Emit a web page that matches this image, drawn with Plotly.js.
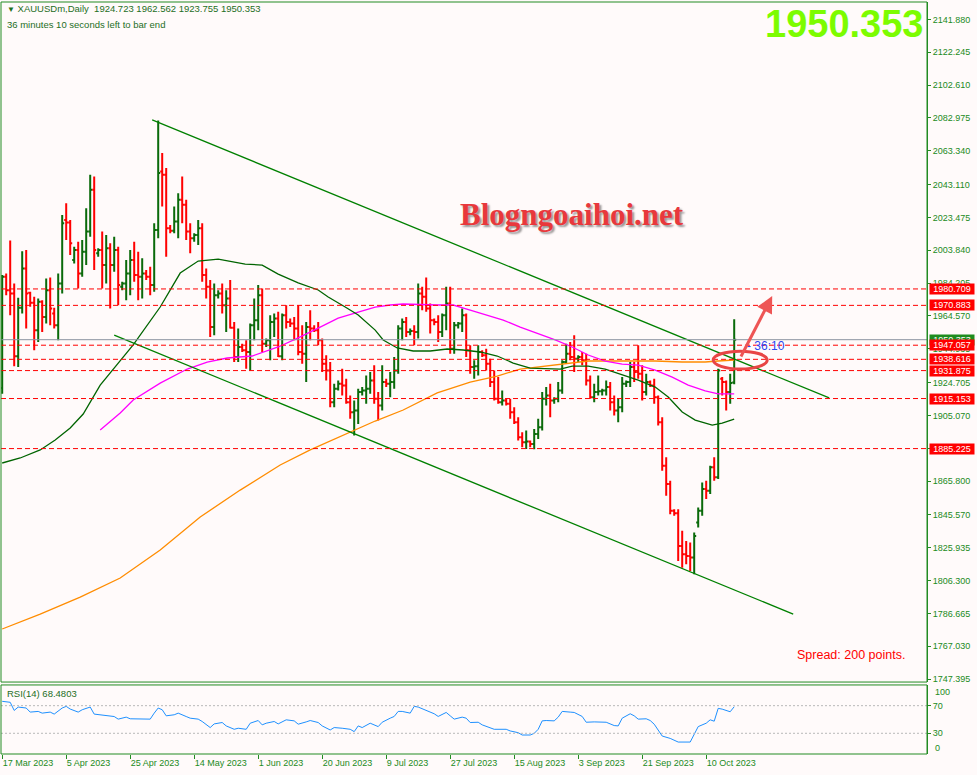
<!DOCTYPE html>
<html><head><meta charset="utf-8">
<script src="https://cdn.plot.ly/plotly-3.0.1.min.js"></script>
<style>html,body{margin:0;padding:0;background:#fffafa}#chart{width:977px;height:775px}</style>
</head><body><div id="chart"></div>
<script>
// ---------- DATA ----------
const barOpen = [1921.5,1988.0,1980.0,1978.0,1940.5,1969.5,1993.0,1978.5,1972.5,1956.0,1973.0,1964.0,1980.0,1966.0,1959.0,1984.0,2022.0,2020.5,1998.0,2004.0,1990.0,2003.0,2015.0,2040.0,2002.0,2004.0,1995.0,2005.0,1995.0,2004.0,1982.0,1984.0,1990.0,1998.0,1989.0,1988.0,1990.0,1988.0,1983.0,2016.0,2051.0,2049.0,2017.0,2015.5,2021.0,2034.0,2031.0,2015.0,2011.0,2013.0,2017.0,1989.0,1982.0,1958.0,1977.0,1978.0,1971.0,1975.0,1957.5,1940.0,1946.0,1944.0,1943.0,1959.0,1962.0,1977.0,1948.0,1950.0,1961.0,1963.0,1940.5,1965.0,1961.0,1960.0,1957.0,1943.0,1942.0,1958.0,1957.0,1956.0,1950.0,1936.0,1932.0,1913.0,1921.0,1924.0,1923.0,1913.0,1907.0,1908.0,1919.0,1920.0,1921.0,1926.0,1915.0,1911.0,1925.0,1924.0,1925.0,1932.0,1957.0,1961.0,1955.0,1955.5,1955.0,1978.0,1976.0,1969.0,1962.0,1961.0,1955.0,1965.0,1972.0,1945.0,1959.0,1960.0,1965.0,1944.0,1934.0,1934.5,1943.0,1941.0,1936.0,1925.0,1915.0,1913.0,1914.0,1912.0,1907.0,1901.0,1892.0,1889.0,1889.5,1888.0,1894.0,1898.0,1915.0,1917.0,1914.0,1915.0,1920.0,1937.0,1942.0,1940.0,1939.0,1940.0,1938.0,1926.0,1916.0,1919.0,1919.5,1920.0,1922.0,1913.0,1908.0,1910.0,1924.0,1925.0,1934.0,1931.0,1930.0,1919.0,1925.0,1923.0,1916.0,1901.0,1875.0,1864.0,1848.0,1846.5,1827.0,1822.0,1821.0,1820.0,1841.0,1848.0,1861.0,1860.0,1874.0,1868.0,1927.0,1925.0,1919.0,1924.723];
const barHigh = [1989.0,1990.0,2009.7,1984.0,1975.5,2003.3,2004.0,1979.0,1976.0,1975.0,1974.0,1987.0,1987.5,1969.5,1990.0,2025.0,2032.0,2022.0,2006.0,2009.0,2010.0,2029.0,2049.0,2048.0,2005.0,2015.0,2013.0,2008.0,2012.0,2006.0,1985.0,1998.0,2004.0,2009.0,2003.0,1999.0,1992.0,1994.0,2020.0,2081.5,2062.0,2053.0,2019.0,2030.0,2038.0,2048.0,2034.0,2020.0,2014.0,2022.0,2020.0,1993.0,1986.0,1984.0,1980.0,1984.0,1980.0,1986.0,1961.0,1957.0,1948.0,1950.0,1960.0,1975.0,1983.0,1981.0,1951.0,1965.0,1966.0,1967.0,1966.0,1971.0,1963.0,1964.0,1971.0,1959.0,1961.0,1968.0,1959.0,1961.0,1951.0,1941.0,1937.0,1924.0,1926.0,1933.0,1927.0,1917.0,1914.0,1921.0,1922.0,1929.0,1931.0,1935.0,1919.0,1935.0,1927.0,1931.0,1940.0,1959.0,1963.0,1964.0,1957.0,1959.0,1984.0,1982.0,1987.5,1972.0,1963.0,1965.0,1966.0,1982.0,1982.0,1961.0,1961.0,1969.0,1966.0,1947.0,1938.0,1947.0,1944.0,1945.0,1939.0,1932.0,1928.0,1920.0,1915.0,1915.0,1910.0,1904.0,1895.0,1896.0,1890.0,1897.0,1903.0,1919.0,1922.0,1924.0,1916.0,1925.0,1938.0,1948.0,1949.0,1953.0,1941.0,1943.0,1942.0,1929.0,1924.0,1929.0,1921.0,1926.0,1925.0,1917.0,1915.0,1928.0,1926.0,1937.0,1937.0,1947.0,1935.0,1930.0,1926.0,1927.0,1917.0,1904.0,1880.0,1866.0,1849.0,1849.0,1836.0,1830.0,1829.0,1835.0,1850.0,1865.0,1866.0,1875.0,1880.0,1933.0,1928.0,1926.0,1930.0,1962.562];
const barLow = [1918.0,1977.0,1965.0,1934.5,1934.0,1966.0,1957.0,1970.0,1944.0,1949.0,1955.0,1960.0,1959.0,1957.0,1950.0,1978.0,2010.0,2001.0,1996.0,1981.0,1988.0,1995.0,2012.0,1992.0,2000.0,1981.0,1984.0,1969.0,1991.0,1971.0,1980.0,1974.0,1977.0,1985.0,1974.0,1975.0,1986.0,1977.0,1979.0,2011.0,2030.0,2000.0,2014.0,2014.0,2011.0,2020.0,2010.0,2002.0,2009.0,2007.0,1985.0,1975.0,1952.0,1953.0,1975.0,1966.0,1955.0,1957.0,1937.0,1937.0,1943.0,1933.0,1932.0,1950.0,1956.0,1943.0,1946.0,1938.0,1952.0,1940.0,1938.0,1957.0,1958.0,1950.0,1941.0,1936.0,1925.0,1950.0,1955.0,1947.0,1931.0,1926.0,1910.0,1910.0,1920.0,1917.0,1912.0,1903.0,1893.0,1900.0,1917.0,1912.0,1918.0,1912.0,1902.0,1908.0,1922.0,1916.0,1921.0,1930.0,1950.0,1952.0,1953.0,1947.0,1951.0,1968.0,1967.0,1954.0,1959.0,1949.0,1952.0,1956.0,1942.0,1942.0,1957.0,1955.0,1940.0,1930.0,1927.0,1929.0,1940.0,1932.0,1922.0,1914.0,1912.0,1911.0,1911.0,1903.0,1900.0,1890.0,1886.0,1885.0,1886.0,1884.8,1891.0,1896.0,1911.0,1904.0,1912.0,1913.0,1918.0,1936.0,1938.0,1931.0,1937.0,1935.0,1923.0,1915.0,1913.0,1917.0,1917.0,1917.0,1908.0,1905.0,1901.0,1907.0,1922.0,1922.0,1925.0,1927.0,1914.0,1917.0,1922.0,1912.0,1899.0,1872.0,1857.0,1846.0,1845.0,1818.0,1814.0,1816.0,1812.0,1810.0,1838.0,1845.0,1855.0,1858.0,1866.0,1867.0,1917.0,1908.0,1912.0,1923.755];
const barClose = [1988.0,1980.0,1978.0,1940.5,1969.5,1993.0,1978.0,1972.5,1956.0,1973.0,1964.0,1980.0,1969.0,1959.0,1984.0,2020.0,2020.5,2008.0,2004.0,1990.0,2003.0,2015.0,2040.0,2004.0,2004.0,1995.0,2005.0,1995.0,2004.0,1983.0,1984.0,1990.0,1998.0,1989.0,1988.0,1990.0,1988.0,1983.0,2016.0,2050.0,2049.0,2017.0,2015.5,2021.0,2034.0,2031.0,2015.0,2011.0,2013.0,2017.0,1989.0,1982.0,1958.0,1977.0,1978.0,1971.0,1975.0,1957.5,1940.0,1946.0,1944.0,1943.0,1959.0,1962.0,1977.0,1948.0,1950.0,1961.0,1963.0,1940.5,1965.0,1961.0,1960.0,1957.0,1943.0,1942.0,1958.0,1957.0,1956.0,1950.0,1936.0,1932.0,1913.0,1921.0,1924.0,1923.0,1913.0,1907.0,1908.0,1919.0,1920.0,1921.0,1926.0,1915.0,1911.0,1925.0,1924.0,1925.0,1932.0,1957.0,1961.0,1955.0,1955.5,1955.0,1978.0,1976.0,1969.0,1962.0,1961.0,1955.0,1965.0,1972.0,1945.0,1959.0,1960.0,1965.0,1944.0,1934.0,1934.5,1943.0,1941.0,1936.0,1925.0,1915.0,1913.0,1914.0,1912.0,1907.0,1901.0,1892.0,1889.0,1889.5,1888.0,1894.0,1898.0,1915.0,1917.0,1914.0,1915.0,1920.0,1937.0,1942.0,1940.0,1939.0,1940.0,1938.0,1926.0,1916.0,1919.0,1919.5,1920.0,1922.0,1913.0,1908.0,1910.0,1924.0,1925.0,1934.0,1931.0,1930.0,1919.0,1925.0,1923.0,1916.0,1901.0,1875.0,1864.0,1848.0,1846.5,1827.0,1822.0,1821.0,1820.0,1833.0,1848.0,1861.0,1860.0,1874.0,1868.0,1932.0,1925.0,1919.0,1924.5,1950.353];

// moving averages (bar index, price)
const maGreenIdx = [0,4.5,9.5,13.25,17,20.25,24.5,32.75,39.5,44.5,49,54,60.75,65,69,74,79,81.5,85.75,89,93.25,95.25,98.75,102.75,107,111.25,115.25,119.5,123.75,127.75,132,139.5,142.5,146.5,150.75,155,159,163.25,166.5,170,173.25,177.5,180,183];
const maGreenVal = [1876.6,1879.6,1884.4,1890.3,1897.5,1905.9,1923.2,1947.2,1969.9,1990.2,1997.4,1998.6,1995.6,1995.0,1989.6,1984.3,1980.1,1975.9,1969.9,1965.1,1956.1,1950.2,1945.4,1943.6,1943.6,1944.8,1944.2,1943.0,1940.6,1936.4,1933.4,1932.8,1934.6,1934.6,1932.8,1929.2,1926.2,1922.0,1916.1,1907.1,1902.3,1899.3,1900.5,1902.9];
const maPinkIdx = [24.5,29.5,32.75,39.5,46.25,51.25,56.25,62.5,69,74,79,84,89,93.25,97,100.25,108.75,112.75,117,121.25,125.25,129.5,133.75,138.25,142.5,146.5,150.75,155,159,163.25,167.5,171.5,175.75,179,183];
const maPinkVal = [1896.3,1906.5,1914.3,1924.4,1932.8,1937.0,1939.4,1940.6,1946.0,1951.4,1957.3,1963.3,1966.9,1969.9,1971.1,1971.7,1971.1,1971.1,1968.1,1965.1,1962.1,1957.9,1954.3,1950.2,1946.0,1941.2,1937.6,1935.8,1935.2,1932.2,1928.0,1923.2,1919.7,1917.9,1917.9];
const maOrangeIdx = [0,9.5,19.5,29.5,39.5,49.5,59.5,69.5,77,83.75,93.25,100.25,108.75,117,123.75,129.5,133.75,139.5,146.5,155,163.25,170,175.75,179,183];
const maOrangeVal = [1777.3,1786.2,1796.4,1807.8,1824.5,1844.3,1860.4,1875.4,1884.4,1891.5,1901.7,1908.3,1918.5,1925.0,1928.6,1932.8,1934.0,1935.8,1937.6,1937.6,1937.6,1937.0,1937.0,1937.6,1938.2];

// channel lines (bar index, price)
const upperLineIdx = [37.5, 206.75];
const upperLineVal = [2081.8, 1915.5];
const lowerLineIdx = [28, 197.75];
const lowerLineVal = [1953.1, 1786.2];

// RSI(14)
const rsiIdx = [0,2,3,4,6,7,9,10,12,13,15,16,17,19,20,22,23,25,27,28,29,31,32,34,37,38,39,40,41,43,44,46,47,49,50,52,53,55,56,58,59,61,62,64,65,66,68,69,71,73,74,76,77,79,80,82,83,85,87,88,89,90,92,94,95,97,98,99,100,102,103,104,106,108,109,111,112,113,115,116,117,119,120,122,123,126,127,129,130,132,133,134,135,136,138,139,140,142,143,145,146,148,151,153,154,155,157,158,159,161,162,163,164,165,167,168,169,172,173,174,176,177,178,179,180,181,182,183];
const rsiVal = [76.3,74.9,63.1,68.0,66.6,60.7,61.7,59.2,60.7,57.8,66.6,69.0,65.1,60.7,64.1,68.0,57.8,56.8,55.3,54.3,50.5,53.4,51.0,50.5,50.5,59.2,66.6,64.1,55.3,56.8,59.2,54.3,51.9,50.5,47.1,38.3,43.6,45.6,40.7,35.8,37.3,35.8,44.6,48.5,42.2,44.6,47.1,43.6,49.5,48.0,43.2,46.5,48.5,45.6,40.7,34.8,38.3,37.3,35.8,32.4,40.7,38.3,44.6,39.7,46.0,51.9,54.4,61.7,61.7,59.2,69.0,68.0,63.1,58.3,54.4,60.2,55.3,50.5,53.4,51.9,45.6,46.0,42.2,38.3,35.8,35.8,33.4,30.9,27.5,27.5,29.9,35.8,48.0,48.5,48.0,53.4,61.7,60.7,60.2,54.4,46.0,46.5,46.0,41.2,40.7,51.9,58.3,55.3,50.5,51.0,48.5,43.2,33.9,26.0,22.6,20.2,17.3,17.3,27.5,39.7,44.6,49.5,47.5,66.1,65.0,63.5,61.2,68.48];

const levelPrices = [1980.709, 1970.883, 1947.057, 1938.616, 1931.875, 1915.153, 1885.225];
const bidPrice = 1950.353;
const priceTicks = [2141.880,2122.245,2102.610,2082.975,2063.340,2043.110,2023.475,2003.840,1984.205,1964.570,1944.935,1924.705,1905.070,1885.435,1865.800,1845.570,1825.935,1806.300,1786.665,1767.030,1747.395];
const dateTickIdx = [0,16,32,48,64,80,96,112,128,144,160,176];
const dateTickText = ['17 Mar 2023','5 Apr 2023','25 Apr 2023','14 May 2023','1 Jun 2023','20 Jun 2023','9 Jul 2023','27 Jul 2023','15 Aug 2023','3 Sep 2023','21 Sep 2023','10 Oct 2023'];
const headerText = 'XAUUSDm,Daily &nbsp;1924.723 1962.562 1923.755 1950.353';
const rsiLabel = 'RSI(14) 68.4803';
const timerText = '- 36:10';
// annotation marks (bar index, price)
const circleBox = [177.75, 191.25, 1932.8, 1943.5];
const arrowTail = [184.5, 1939.4];
const arrowHead = [192.5, 1976.5];

// ---------- STYLE ----------
const FONT = 'Liberation Sans, Arial, sans-serif';
const AXG = '#228b22';
const UP = '#0a6a0a';
const DOWN = '#ff0000';
const idx = barOpen.map((_, i) => i);

const traces = [
  {type:'ohlc', x: idx, open: barOpen, high: barHigh, low: barLow, close: barClose,
   xaxis:'x', yaxis:'y', tickwidth:0.5, hoverinfo:'skip',
   increasing:{line:{color:UP, width:2}}, decreasing:{line:{color:DOWN, width:2}}},
  {type:'scatter', mode:'lines', x: maOrangeIdx, y: maOrangeVal, line:{color:'#ff8c00', width:1.3}, hoverinfo:'skip'},
  {type:'scatter', mode:'lines', x: maPinkIdx, y: maPinkVal, line:{color:'#ff00ff', width:1.3}, hoverinfo:'skip'},
  {type:'scatter', mode:'lines', x: maGreenIdx, y: maGreenVal, line:{color:'#006400', width:1.3}, hoverinfo:'skip'},
  {type:'scatter', mode:'lines', x: upperLineIdx, y: upperLineVal, line:{color:'#008000', width:1.3}, hoverinfo:'skip'},
  {type:'scatter', mode:'lines', x: lowerLineIdx, y: lowerLineVal, line:{color:'#008000', width:1.3}, hoverinfo:'skip'},
  {type:'scatter', mode:'lines', x: rsiIdx, y: rsiVal, xaxis:'x', yaxis:'y2', line:{color:'#1e90ff', width:1}, hoverinfo:'skip'}
];

const shapes = [];
levelPrices.forEach(p => shapes.push({type:'line', xref:'paper', x0:0, x1:1, yref:'y', y0:p, y1:p, line:{color:'#ff0000', width:1, dash:'5px,3px'}}));
shapes.push({type:'line', xref:'paper', x0:0, x1:1, yref:'y', y0:bidPrice, y1:bidPrice, line:{color:'#8c93a0', width:1}});
[70,30].forEach(v => shapes.push({type:'line', xref:'paper', x0:0, x1:1, yref:'y2', y0:v, y1:v, line:{color:'#b8b8b8', width:1, dash:'2px,2px'}}));
shapes.push({type:'rect', xref:'paper', yref:'paper', x0:0, x1:1, y0:0.0957, y1:1, line:{color:AXG, width:1}});
shapes.push({type:'rect', xref:'paper', yref:'paper', x0:0, x1:1, y0:0, y1:0.0918, line:{color:AXG, width:1}});
shapes.push({type:'circle', xref:'x', yref:'y', x0:circleBox[0], x1:circleBox[1], y0:circleBox[2], y1:circleBox[3], line:{color:'#e84545', width:3}});

const annotations = [
  {xref:'paper', yref:'paper', x:0.004, y:0.9907, xanchor:'left', yanchor:'middle', showarrow:false,
   text:'<span style="font-size:8px">▼</span> ' + headerText, font:{family:FONT, size:9.5, color:'#1e6e1e'}},
  {xref:'paper', yref:'paper', x:0.004, y:0.9707, xanchor:'left', yanchor:'middle', showarrow:false,
   text:'36 minutes 10 seconds left to bar end', font:{family:FONT, size:9.5, color:'#1e6e1e'}},
  {xref:'paper', yref:'paper', x:0.999, y:0.9707, xanchor:'right', yanchor:'middle', showarrow:false,
   text:'<b>' + bidPrice.toFixed(3) + '</b>', font:{family:FONT, size:38, color:'#7cfc00'}},
  {xref:'paper', yref:'paper', x:0.6166, y:0.7168, xanchor:'center', yanchor:'middle', showarrow:false,
   text:'<b>Blogngoaihoi.net</b>', font:{family:'Liberation Serif, Times New Roman, serif', size:31, color:'#e8383c', shadow:'2px 2px 2px rgba(0,0,0,0.4)'}},
  {xref:'paper', yref:'paper', x:0.857, y:0.1316, xanchor:'left', yanchor:'middle', showarrow:false,
   text:'Spread: 200 points.', font:{family:FONT, size:12.5, color:'#ff0000'}},
  {xref:'paper', yref:'paper', x:0.803, y:0.5426, xanchor:'left', yanchor:'middle', showarrow:false,
   text:timerText, font:{family:FONT, size:12, color:'#2b45f0'}},
  {xref:'paper', yref:'paper', x:0.004, y:0.0811, xanchor:'left', yanchor:'middle', showarrow:false,
   text:rsiLabel, font:{family:FONT, size:9.5, color:'#1e6e1e'}},
  {xref:'paper', yref:'paper', x:1, y:0.0824, xanchor:'left', yanchor:'middle', xshift:6, showarrow:false,
   text:'100', font:{family:FONT, size:9, color:AXG}},
  {xref:'paper', yref:'paper', x:1, y:0.008, xanchor:'left', yanchor:'middle', xshift:6, showarrow:false,
   text:'0', font:{family:FONT, size:9, color:AXG}},
  {xref:'x', yref:'y', axref:'x', ayref:'y', x:arrowHead[0], y:arrowHead[1], ax:arrowTail[0], ay:arrowTail[1],
   showarrow:true, arrowhead:2, arrowsize:1.1, arrowwidth:3, arrowcolor:'#ee5555', text:''},
  {xref:'paper', yref:'y', x:1, y:bidPrice, xanchor:'left', yanchor:'middle', xshift:2, showarrow:false,
   text:bidPrice.toFixed(3), bgcolor:'#1e8c1e', width:44, height:10, borderpad:0, font:{family:FONT, size:9, color:'#ffffff'}}
];
levelPrices.forEach(p => annotations.push({xref:'paper', yref:'y', x:1, y:p, xanchor:'left', yanchor:'middle', xshift:2, showarrow:false,
  text:p.toFixed(3), bgcolor:'#ff0000', width:44, height:10, borderpad:0, font:{family:FONT, size:9, color:'#ffffff'}}));

const layout = {
  width:977, height:775,
  margin:{l:1, r:50, t:2, b:21},
  paper_bgcolor:'#fffafa', plot_bgcolor:'#fffafa',
  showlegend:false,
  font:{family:FONT, size:9, color:AXG},
  xaxis:{range:[-0.3, 231.2], anchor:'y2', showgrid:false, zeroline:false, showline:false,
    tickvals:dateTickIdx, ticktext:dateTickText, ticks:'outside', ticklen:4, tickcolor:AXG,
    ticklabelposition:'outside right', tickfont:{family:FONT, size:9, color:AXG},
    rangeslider:{visible:false}, fixedrange:true},
  yaxis:{domain:[0.0957,1], range:[1745.58,2152.35], side:'right', anchor:'x',
    tickvals:priceTicks, ticktext:priceTicks.map(v => v.toFixed(3)), ticks:'outside', ticklen:3, tickcolor:AXG,
    showline:true, linecolor:AXG, showgrid:false, zeroline:false, tickfont:{family:FONT, size:9, color:AXG}},
  yaxis2:{domain:[0,0.0918], range:[0,100], side:'right', anchor:'x',
    tickvals:[70,30], ticktext:['70','30'], ticks:'outside', ticklen:3, tickcolor:AXG,
    showline:true, linecolor:AXG, showgrid:false, zeroline:false, tickfont:{family:FONT, size:9, color:AXG}},
  shapes:shapes, annotations:annotations
};

Plotly.newPlot('chart', traces, layout, {staticPlot:true, displayModeBar:false});
</script></body></html>
